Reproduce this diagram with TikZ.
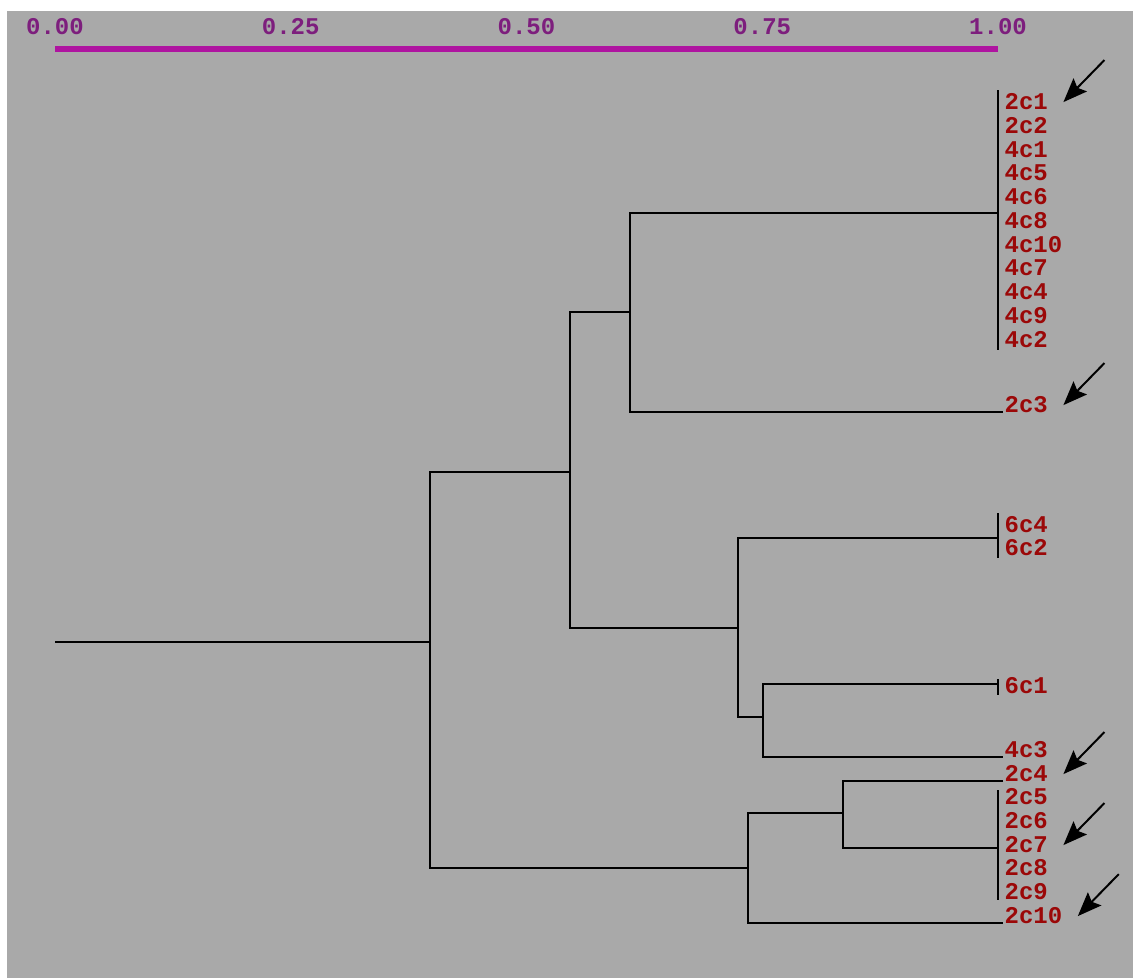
\documentclass[tikz,border=0pt]{standalone}
\usepackage{fontspec}
\newfontfamily\dendfont{Liberation Mono}
\usetikzlibrary{arrows.meta}

\definecolor{panelgray}{RGB}{169,169,169}
\definecolor{leafred}{RGB}{155,8,8}
\definecolor{scalepurple}{RGB}{125,30,125}
\definecolor{barmagenta}{RGB}{175,20,160}

\tikzset{
  leaf/.style={anchor=base west, inner sep=1pt, text=leafred,
    font=\dendfont\bfseries\fontsize{18}{18}\selectfont},
  scalelabel/.style={anchor=base, inner sep=0pt, text=scalepurple,
    font=\dendfont\bfseries\fontsize{18}{18}\selectfont},
  branch/.style={line width=1.5pt, black},
  pointer/.style={line width=1.5pt, black, -{Stealth[length=18pt,width=14pt,inset=3pt]}}
}

\begin{document}
\begin{tikzpicture}[x=0.75pt,y=-0.75pt]
  \fill[white] (0,0) rectangle (1133,978);
  \fill[panelgray] (7,11) rectangle (1133,978);
  \useasboundingbox (0,0) rectangle (1133,978);

  % scale bar
  \draw[barmagenta, line width=4.5pt] (55,49) -- (998,49);
  \foreach \lab [count=\i from 0] in {0.00,0.25,0.50,0.75,1.00}
    \node[scalelabel] (tick\i) at ({55+235.75*\i},35) {\lab};

  % leaves
  \foreach \name/\y in {2c1/109, 2c2/133, 4c1/157, 4c5/180, 4c6/204, 4c8/228,
      4c10/252, 4c7/275, 4c4/299, 4c9/323, 4c2/347, 2c3/412, 6c4/532, 6c2/555,
      6c1/693, 4c3/757, 2c4/781, 2c5/804, 2c6/828, 2c7/852, 2c8/875, 2c9/899,
      2c10/923}
    \node[leaf] (l\name) at (1003,\y) {\name};

  % group bars
  \coordinate (g4) at (998,213);
  \coordinate (g6) at (998,538);
  \coordinate (g61) at (998,684);
  \coordinate (g2) at (998,848);
  \draw[branch] (998,90) -- (998,350);
  \draw[branch] (998,513) -- (998,558);
  \draw[branch] (998,679) -- (998,695);
  \draw[branch] (998,790) -- (998,900);

  % merges
  \coordinate (root) at (55,642);
  \coordinate (mAll) at (430,642);
  \coordinate (mUp) at (570,472);
  \coordinate (m4) at (630,312);
  \coordinate (m6) at (738,628);
  \coordinate (m6b) at (763,717);
  \coordinate (m2) at (748,868);
  \coordinate (m2b) at (843,813);

  \draw[branch] (root) -- (mAll);
  \draw[branch] (mUp) -| (mAll) |- (m2);
  \draw[branch] (m4) -| (mUp) |- (m6);
  \draw[branch] (g4) -| (m4) |- (l2c3.base west);
  \draw[branch] (g6) -| (m6) |- (m6b);
  \draw[branch] (g61) -| (m6b) |- (l4c3.base west);
  \draw[branch] (m2b) -| (m2) |- (l2c10.base west);
  \draw[branch] (l2c4.base west) -| (m2b) |- (g2);

  % arrows
  \foreach \name in {2c1,2c3,2c4,2c7,2c10}
    \draw[pointer] ([shift={(55,-41)}]l\name.east) -- ([shift={(14,1)}]l\name.east);
\end{tikzpicture}
\end{document}
